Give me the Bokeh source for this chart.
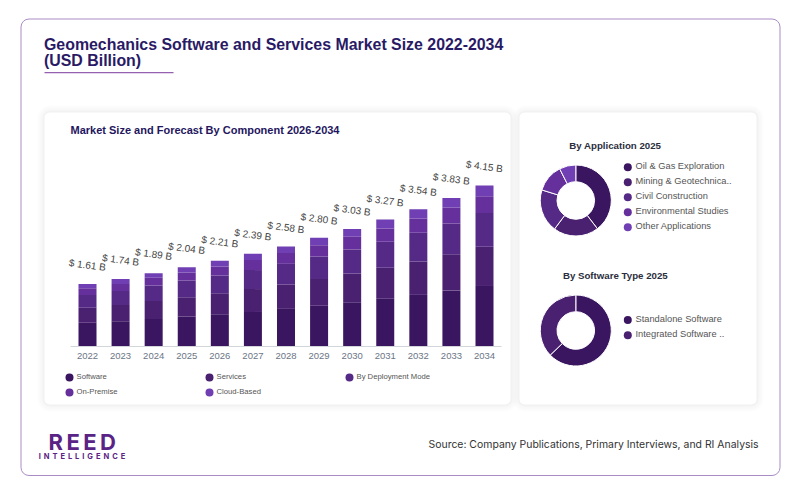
import math
from bokeh.core.properties import value
from bokeh.embed import file_html
from bokeh.resources import INLINE
from bokeh.plotting import figure
from bokeh.models import (BoxAnnotation, Label, LinearAxis, Range1d, FixedTicker,
                          ColumnDataSource, PrintfTickFormatter)

# ---- data ----
years = [2022, 2023, 2024, 2025, 2026, 2027, 2028, 2029, 2030, 2031, 2032, 2033, 2034]
totals = [1.61, 1.74, 1.89, 2.04, 2.21, 2.39, 2.58, 2.80, 3.03, 3.27, 3.54, 3.83, 4.15]
software = [0.61, 0.65, 0.71, 0.77, 0.83, 0.89, 0.97, 1.05, 1.14, 1.23, 1.33, 1.44, 1.56]
services = [0.39, 0.42, 0.46, 0.50, 0.54, 0.59, 0.63, 0.69, 0.74, 0.80, 0.86, 0.94, 1.01]
deployment = [0.33, 0.36, 0.40, 0.43, 0.46, 0.49, 0.53, 0.58, 0.62, 0.67, 0.74, 0.79, 0.87]
on_premise = [0.17, 0.18, 0.20, 0.21, 0.23, 0.26, 0.28, 0.29, 0.33, 0.34, 0.37, 0.41, 0.43]
cloud_based = [0.11, 0.13, 0.12, 0.13, 0.15, 0.16, 0.17, 0.19, 0.20, 0.23, 0.24, 0.25, 0.28]
series_names = ["Software", "Services", "By Deployment Mode", "On-Premise", "Cloud-Based"]

app_labels = ["Oil & Gas Exploration", "Mining & Geotechnica..", "Civil Construction",
              "Environmental Studies", "Other Applications"]
app_shares = [39.6, 20.6, 19.6, 12.7, 7.5]
sw_labels = ["Standalone Software", "Integrated Software .."]
sw_shares = [62.8, 37.2]

palette = ["#3a1560", "#4a2070", "#552a87", "#65309c", "#6f3fb3"]
W, H = 784, 477

# Default ranges are page pixels; the bars use their own value ranges.
p = figure(width=W, height=H, output_backend="svg", toolbar_location=None,
           x_range=Range1d(0, W), y_range=Range1d(H, 0),
           x_axis_type=None, y_axis_type=None, min_border=0,
           outline_line_color=None, background_fill_color="white", border_fill_color="white")
p.grid.visible = False

px_per_year = (484 - 87) / 12
px_per_usd = 38.8
base_y = 346
x0 = 2022 - 87 / px_per_year
p.extra_x_ranges["years"] = Range1d(x0, x0 + W / px_per_year)
p.extra_y_ranges["usd"] = Range1d((base_y - H) / px_per_usd, base_y / px_per_usd)


def box(l, r, t, b, fill="white", alpha=1.0, line=None, radius=4, lw=1):
    p.add_layout(BoxAnnotation(left=l, right=r, top=t, bottom=b, fill_color=fill, fill_alpha=alpha,
                               line_color=line, line_alpha=1.0, line_width=lw, border_radius=radius,
                               level="underlay"))


def label(x, y, text, size, color, bold=False, font="Liberation Sans", align="left", angle=0):
    p.add_layout(Label(x=x, y=y - 0.8, text=text, text_font=font, text_font_size=f"{size}px", text_color=color,
                       text_font_style="bold" if bold else "normal", text_align=align,
                       text_baseline="middle", angle=angle))


box(20.5, 779.5, 18.5, 475, fill="white", line="#a98cc6", radius=8)
for l, r in [(44, 510), (519, 756)]:
    for g in (7, 5, 3, 2, 1):
        box(l - g, r + g, 112 - g, 404 + g, fill="#000000", alpha=0.012, radius=6 + g)
    box(l, r, 112, 404, radius=5)

label(43.5, 44.5, "Geomechanics Software and Services Market Size 2022-2034", 15.9, "#2a1a66", True)
label(43.5, 61, "(USD Billion)", 15.9, "#2a1a66", True)
box(44, 173, 71.5, 72.8, fill="#9560b0", radius=0)
label(70, 130.5, "Market Size and Forecast By Component 2026-2034", 11, "#24165e", True)

# stacked bars
src = ColumnDataSource(dict(year=years, total=totals, text=[f"$ {v:.2f} B" for v in totals]))
for name, vals in zip(series_names, [software, services, deployment, on_premise, cloud_based]):
    src.add(vals, name)
p.vbar_stack(series_names, x="year", width=18 / px_per_year, color=palette, source=src,
             x_range_name="years", y_range_name="usd", line_color=None)
p.text(x="year", y="total", text="text", source=src, x_range_name="years", y_range_name="usd",
       text_font=value("Liberation Sans"), text_font_size="10px", text_color="#444444", text_align="center",
       text_baseline="middle", angle=-7.5, angle_units="deg", y_offset=-19)

axis = LinearAxis(x_range_name="years", y_range_name="usd", fixed_location=0,
                  ticker=FixedTicker(ticks=years), formatter=PrintfTickFormatter(format="%d"),
                  bounds=(2022 - 17 / px_per_year, 2034 + 17 / px_per_year),
                  axis_line_color="#d2d5da", major_tick_line_color=None, minor_tick_line_color=None,
                  major_label_text_color="#6b7585", major_label_text_font="Liberation Sans",
                  major_label_text_font_size="9.5px", major_label_standoff=0)
p.add_layout(axis, "below")

# bar legend
leg_x = [69, 209, 349, 69, 209]
leg_y = [377, 377, 377, 392, 392]
p.scatter(leg_x, leg_y, size=8, color=palette, line_color=None)
for x, y, t in zip(leg_x, leg_y, series_names):
    label(x + 7, y, t, 7.7, "#555555")


def donut(cx, cy, shares, names, legend_ys, title, title_y):
    total = sum(shares)
    cum, starts, ends = 0.0, [], []
    for s in shares:
        ends.append(math.pi / 2 - cum / total * 2 * math.pi)
        cum += s
        starts.append(math.pi / 2 - cum / total * 2 * math.pi)
    p.annular_wedge(x=[cx] * len(shares), y=[cy] * len(shares), inner_radius=18.8, outer_radius=35.5,
                    inner_radius_units="screen", outer_radius_units="screen",
                    start_angle=starts, end_angle=ends, color=palette[:len(shares)],
                    line_color="white", line_width=1)
    label(614.8, title_y, title, 9.7, "#2b2e3d", True, align="center")
    p.scatter([627.3] * len(names), legend_ys, size=8, color=palette[:len(names)], line_color=None)
    for y, t in zip(legend_ys, names):
        label(635, y, t, 9.3, "#555555")


donut(575.3, 200, app_shares, app_labels, [166.7, 181.7, 196.7, 211.7, 226.7], "By Application 2025", 145.7)
donut(575.3, 330, sw_shares, sw_labels, [319.5, 334.7], "By Software Type 2025", 275.7)

# footer
label(48, 442, "R\u2009E\u2009E\u2009D", 22, "#5a2386", True, font="Inter")
label(38.2, 456.7, "I \u2009N \u2009T \u2009E \u2009L \u2009L \u2009I \u2009G \u2009E \u2009N \u2009C \u2009E", 7.5, "#5a2386", True, font="Inter")
label(428, 445, "Source: Company Publications, Primary Interviews, and RI Analysis", 10.45, "#333333", font="Inter")

open("out.html", "w").write(file_html(p, INLINE))
